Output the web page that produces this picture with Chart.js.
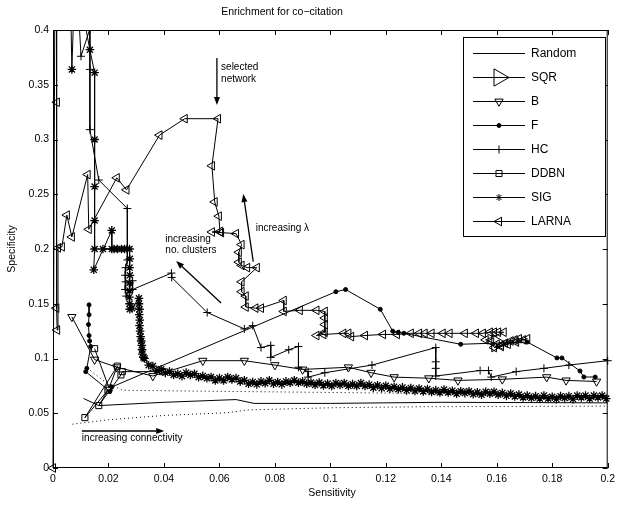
<!DOCTYPE html>
<html><head><meta charset="utf-8">
<script src="https://cdn.jsdelivr.net/npm/chart.js@4/dist/chart.umd.min.js"></script>
<style>html,body{margin:0;padding:0;background:#fff}canvas{display:block}</style>
</head><body>
<canvas id="c" width="620" height="506"></canvas>
<script>
// ---------------- DATA ----------------
const titleText = 'Enrichment for co\u2212citation';
const xAxisTitle = 'Sensitivity';
const yAxisTitle = 'Specificity';
const categories = ['Random','SQR','B','F','HC','DDBN','SIG','LARNA'];
const xTickValues = [0,0.02,0.04,0.06,0.08,0.1,0.12,0.14,0.16,0.18,0.2];
const xTickLabels = ['0','0.02','0.04','0.06','0.08','0.1','0.12','0.14','0.16','0.18','0.2'];
const yTickValues = [0,0.05,0.1,0.15,0.2,0.25,0.3,0.35,0.4];
const yTickLabels = ['0','0.05','0.1','0.15','0.2','0.25','0.3','0.35','0.4'];

const randomMean  = [[0.011,0.0635],[0.0165,0.057],[0.040,0.060],[0.066,0.0625],[0.0725,0.059],[0.100,0.059],[0.140,0.060],[0.200,0.0595]];
const randomUpper = [[0.0135,0.089],[0.018,0.080],[0.025,0.071],[0.060,0.070],[0.100,0.069],[0.135,0.068],[0.170,0.066],[0.200,0.065]];
const randomLower = [[0.007,0.040],[0.020,0.044],[0.040,0.048],[0.063,0.0505],[0.070,0.053],[0.100,0.055],[0.135,0.056],[0.200,0.0565]];

const sqrSeries = [[0.160,0.114]];

const bSeries = [[0.0068,0.138],[0.015,0.099],[0.023,0.092],[0.036,0.084],[0.054,0.098],[0.069,0.098],[0.080,0.094],[0.090,0.090],[0.1065,0.092],[0.1147,0.087],[0.123,0.083],[0.1355,0.082],[0.146,0.080],[0.162,0.081],[0.178,0.083],[0.185,0.080],[0.196,0.079]];

const fSeries = [[0.0130,0.149],[0.0130,0.140],[0.0128,0.131],[0.0130,0.121],[0.0132,0.116],[0.0136,0.111],[0.0122,0.091],[0.0118,0.088],[0.0205,0.070],[0.0212,0.074],[0.102,0.161],[0.1055,0.163],[0.118,0.145],[0.1225,0.125],[0.1245,0.124],[0.1265,0.123],[0.147,0.113],[0.171,0.115],[0.1817,0.1005],[0.1835,0.1005],[0.190,0.0886],[0.1914,0.0831],[0.1955,0.0831]];

const hcSeries = [[0.0085,0.45],[0.0101,0.376],[0.0133,0.401],[0.0133,0.364],[0.0133,0.309],[0.0165,0.263],[0.0268,0.237],[0.0268,0.190],[0.0262,0.183],[0.0260,0.176],[0.0262,0.170],[0.0260,0.163],[0.0264,0.157],[0.0287,0.171],[0.0287,0.163],[0.0427,0.178],[0.0428,0.174],[0.0556,0.142],[0.069,0.127],[0.072,0.130],[0.075,0.110],[0.0785,0.112],[0.0785,0.101],[0.085,0.108],[0.0885,0.111],[0.0885,0.092],[0.092,0.088],[0.092,0.083],[0.098,0.087],[0.115,0.094],[0.138,0.110],[0.138,0.097],[0.138,0.091],[0.138,0.084],[0.154,0.089],[0.157,0.089],[0.158,0.083],[0.167,0.088],[0.177,0.091],[0.186,0.094],[0.200,0.098]];

const ddbnSeries = [[0.015,0.109],[0.0202,0.073],[0.0232,0.093],[0.0115,0.046],[0.0198,0.071],[0.0165,0.057],[0.0245,0.085],[0.0250,0.088],[0.0395,0.088]];

const sigSeries = [[0.0062,0.45],[0.0068,0.364],[0.0079,0.45],[0.0082,0.45],[0.0133,0.382],[0.0150,0.361],[0.0150,0.300],[0.0150,0.257],[0.0150,0.226],[0.0150,0.200],[0.0147,0.181],[0.0212,0.217],[0.0212,0.200],[0.0180,0.200],[0.0220,0.200],[0.0232,0.200],[0.0247,0.200],[0.0258,0.200],[0.0267,0.200],[0.0276,0.200],[0.0277,0.191],[0.0276,0.183],[0.0277,0.176],[0.0275,0.169],[0.0276,0.162],[0.0275,0.156],[0.0276,0.150],[0.0277,0.145],[0.0285,0.146],[0.0310,0.155],[0.0310,0.150],[0.0312,0.145],[0.0311,0.140],[0.0313,0.135],[0.0312,0.130],[0.0314,0.125],[0.0316,0.120],[0.0318,0.116],[0.0320,0.112],[0.0321,0.108],[0.0322,0.104],[0.0326,0.101],
[0.0330,0.1001],[0.0345,0.0939],[0.0360,0.0931],[0.0375,0.0889],[0.0390,0.0901],[0.0405,0.0869],[0.0420,0.0881],[0.0435,0.0849],[0.0450,0.0861],[0.0465,0.0839],[0.0480,0.0871],[0.0495,0.0849],[0.0510,0.0861],[0.0525,0.0829],[0.0540,0.0841],[0.0555,0.0819],[0.0570,0.0831],[0.0585,0.0799],[0.0600,0.0821],[0.0615,0.0799],[0.0630,0.0831],[0.0645,0.0809],[0.0660,0.0821],[0.0675,0.0789],[0.0690,0.0801],[0.0705,0.0769],[0.0720,0.0786],[0.0735,0.0764],[0.0750,0.0791],[0.0765,0.0774],[0.0780,0.0801],[0.0795,0.0769],[0.0810,0.0786],[0.0825,0.0764],[0.0840,0.0791],[0.0855,0.0779],[0.0870,0.0801],[0.0885,0.0779],[0.0900,0.0791],[0.0915,0.0769],[0.0930,0.0781],[0.0945,0.0759],[0.0960,0.0781],[0.0975,0.0754],[0.0990,0.0771],[0.1005,0.0749],[0.1020,0.0776],[0.1035,0.0759],[0.1050,0.0776],[0.1065,0.0749],[0.1080,0.0766],[0.1095,0.0749],[0.1110,0.0776],[0.1125,0.0749],[0.1140,0.0761],[0.1155,0.0734],[0.1170,0.0756],[0.1185,0.0729],[0.1200,0.0751],[0.1215,0.0724],[0.1230,0.0741],[0.1245,0.0719],[0.1260,0.0736],[0.1275,0.0709],[0.1290,0.0731],[0.1305,0.0704],[0.1320,0.0726],[0.1335,0.0699],[0.1350,0.0721],[0.1365,0.0694],[0.1380,0.0711],[0.1395,0.0689],[0.1410,0.0716],[0.1425,0.0689],[0.1440,0.0706],[0.1455,0.0679],[0.1470,0.0701],[0.1485,0.0684],[0.1500,0.0701],[0.1515,0.0674],[0.1530,0.0691],[0.1545,0.0669],[0.1560,0.0696],[0.1575,0.0679],[0.1590,0.0696],[0.1605,0.0669],[0.1620,0.0686],[0.1635,0.0659],[0.1650,0.0681],[0.1665,0.0654],[0.1680,0.0671],[0.1695,0.0644],[0.1710,0.0661],[0.1725,0.0639],[0.1740,0.0656],[0.1755,0.0634],[0.1770,0.0661],[0.1785,0.0634],[0.1800,0.0651],[0.1815,0.0629],[0.1830,0.0656],[0.1845,0.0639],[0.1860,0.0656],[0.1875,0.0629],[0.1890,0.0661],[0.1905,0.0644],[0.1920,0.0661],[0.1935,0.0634],[0.1950,0.0661],[0.1965,0.0644],[0.1980,0.0661],[0.1995,0.0634]];

const larnaSeries = [[0,0],[0.0007,0.45],[0.0013,0.45],[0.0014,0.334],[0.0012,0.146],[0.0015,0.126],[0.0018,0.201],[0.0032,0.202],[0.0050,0.231],[0.0068,0.211],[0.0125,0.268],[0.0129,0.218],[0.0230,0.265],[0.0265,0.254],[0.0384,0.304],[0.0475,0.319],[0.0595,0.319],[0.0573,0.276],[0.0583,0.243],[0.0598,0.230],[0.0602,0.216],[0.0573,0.2155],[0.0606,0.215],[0.0660,0.214],[0.0680,0.204],[0.0670,0.197],[0.0670,0.188],[0.0680,0.185],[0.0700,0.183],[0.0735,0.183],[0.0680,0.170],[0.0680,0.161],[0.0695,0.157],[0.0695,0.147],[0.0730,0.146],[0.0750,0.146],[0.0832,0.153],[0.0832,0.143],[0.0890,0.144],[0.0950,0.144],[0.0980,0.143],[0.0980,0.137],[0.0980,0.131],[0.0980,0.124],[0.0950,0.121],[0.0975,0.122],[0.1047,0.123],[0.1065,0.123],[0.1075,0.120],[0.1125,0.121],[0.1190,0.122],[0.1240,0.122],[0.1290,0.123],[0.1320,0.123],[0.1340,0.123],[0.1365,0.123],[0.1405,0.123],[0.1430,0.123],[0.1485,0.123],[0.1525,0.123],[0.1550,0.123],[0.1575,0.124],[0.1590,0.124],[0.1605,0.124],[0.1625,0.124],[0.1560,0.117],[0.1580,0.115],[0.1600,0.113],[0.1615,0.112],[0.1630,0.114],[0.1650,0.116],[0.1665,0.117],[0.1680,0.118],[0.1695,0.117],[0.1710,0.118],[0.1590,0.110],[0.1615,0.111],[0.1640,0.113],[0.1670,0.115]];

// annotations (data coordinates)
const arrowList = [[0.0591,0.3744,0.0591,0.3315],[0.0722,0.1884,0.0686,0.2502],[0.0606,0.1507,0.0444,0.1890],[0.0104,0.0338,0.0401,0.0338]];
const noteList = [
  {x:0.0606, y:0.3662, t:'selected'}, {x:0.0606, y:0.3553, t:'network'},
  {x:0.0731, y:0.2192, t:'increasing \u03bb'},
  {x:0.0405, y:0.2091, t:'increasing'}, {x:0.0405, y:0.1991, t:'no. clusters'},
  {x:0.0104, y:0.0274, t:'increasing connectivity'}
];

// ---------------- STYLE ----------------
const FONT = '"Liberation Sans", Arial, Helvetica, sans-serif';
const markerStyles = {
  Random: {pointStyle:'line', radius:0},
  SQR:    {pointStyle:'triangle', rotation:90, radius:10, fill:false},
  B:      {pointStyle:'triangle', rotation:180, radius:4.8, fill:false},
  F:      {pointStyle:'circle', rotation:0, radius:2, fill:true},
  HC:     {pointStyle:'cross', rotation:0, radius:4, fill:false},
  DDBN:   {pointStyle:'rect', rotation:0, radius:4.3, fill:false},
  SIG:    {pointStyle:'star', rotation:0, radius:4.3, fill:false, bw:1.3},
  LARNA:  {pointStyle:'triangle', rotation:270, radius:5, fill:false}
};
const toPts = arr => arr.map(([x,y]) => ({x:x, y:y}));
function ds(name, arr, extra) {
  const m = markerStyles[name];
  return Object.assign({
    label:name, data:toPts(arr), showLine:true, borderColor:'#000', borderWidth:1, tension:0,
    pointStyle:m.pointStyle, pointRotation:m.rotation||0, pointRadius:m.radius, pointHoverRadius:m.radius,
    pointBorderColor:'#000', pointBackgroundColor:m.fill ? '#000' : 'rgba(0,0,0,0)', pointBorderWidth:m.bw||1,
    clip:{left:8, top:0, right:8, bottom:8}
  }, extra||{});
}

const datasets = [
  ds('Random', randomMean),
  Object.assign(ds('Random', randomUpper), {borderDash:[1,3], label:'RandomUpper'}),
  Object.assign(ds('Random', randomLower), {borderDash:[1,3], label:'RandomLower'}),
  ds('SQR', sqrSeries, {showLine:false}),
  ds('B', bSeries),
  ds('F', fSeries),
  ds('HC', hcSeries),
  ds('DDBN', ddbnSeries),
  ds('SIG', sigSeries),
  ds('LARNA', larnaSeries)
];

function drawMarker(ctx, name, x, y) {
  const m = markerStyles[name];
  if (!m.radius) return;
  ctx.save();
  ctx.strokeStyle = '#000'; ctx.fillStyle = m.fill ? '#000' : 'rgba(0,0,0,0)'; ctx.lineWidth = 1;
  const r = name === 'SIG' ? 3.5 : m.radius;
  Chart.helpers.drawPoint(ctx, {pointStyle:m.pointStyle, rotation:m.rotation||0, radius:r, borderWidth:1}, x, y);
  ctx.restore();
}

function arrow(ctx, x1, y1, x2, y2) {
  const ang = Math.atan2(y2 - y1, x2 - x1), L = 8, W = 3;
  const bx = x2 - L * Math.cos(ang), by = y2 - L * Math.sin(ang);
  ctx.beginPath(); ctx.moveTo(x1, y1); ctx.lineTo(bx, by); ctx.lineWidth = 1.3; ctx.stroke();
  ctx.beginPath(); ctx.moveTo(x2, y2);
  ctx.lineTo(bx + W * Math.sin(ang), by - W * Math.cos(ang));
  ctx.lineTo(bx - W * Math.sin(ang), by + W * Math.cos(ang));
  ctx.closePath(); ctx.fill();
}

const decor = {
  id:'decor',
  afterDatasetsDraw(chart) {
    const {ctx, chartArea:a, scales:{x, y}} = chart;
    ctx.save();
    ctx.strokeStyle = '#000'; ctx.fillStyle = '#000'; ctx.lineWidth = 1;
    ctx.strokeRect(a.left + 0.5, a.top + 0.5, a.right - a.left - 1, a.bottom - a.top - 1);
    ctx.beginPath();
    xTickValues.forEach(v => { const p = Math.round(x.getPixelForValue(v)) + 0.5;
      ctx.moveTo(p, a.bottom); ctx.lineTo(p, a.bottom - 5); ctx.moveTo(p, a.top); ctx.lineTo(p, a.top + 5); });
    yTickValues.forEach(v => { const p = Math.round(y.getPixelForValue(v)) + 0.5;
      ctx.moveTo(a.left, p); ctx.lineTo(a.left + 5, p); ctx.moveTo(a.right, p); ctx.lineTo(a.right - 5, p); });
    ctx.stroke();
    ctx.textBaseline = 'middle'; ctx.textAlign = 'center';
    ctx.font = '10.5px ' + FONT;
    ctx.fillText(titleText, 282, 12);
    ctx.fillText(xAxisTitle, 332, 493);
    ctx.save(); ctx.translate(12, 249); ctx.rotate(-Math.PI / 2); ctx.fillText(yAxisTitle, 0, 0); ctx.restore();
    arrowList.forEach(([x1, y1, x2, y2]) => arrow(ctx, x.getPixelForValue(x1), y.getPixelForValue(y1), x.getPixelForValue(x2), y.getPixelForValue(y2)));
    ctx.font = '10px ' + FONT; ctx.textAlign = 'left';
    noteList.forEach(n => ctx.fillText(n.t, x.getPixelForValue(n.x), y.getPixelForValue(n.y)));
    const L = 463.5, T = 37.5, R = 605.5, B = 236.5;
    ctx.fillStyle = '#fff'; ctx.fillRect(L, T, R - L, B - T);
    ctx.strokeStyle = '#000'; ctx.lineWidth = 1; ctx.strokeRect(L, T, R - L, B - T);
    ctx.fillStyle = '#000'; ctx.font = '12px ' + FONT; ctx.textAlign = 'left'; ctx.textBaseline = 'middle';
    categories.forEach((name, i) => {
      const cy = Math.round(53 + i * 24.0) + 0.5;
      ctx.beginPath(); ctx.moveTo(473, cy); ctx.lineTo(525, cy); ctx.lineWidth = 1; ctx.stroke();
      drawMarker(ctx, name, 499, cy);
      ctx.fillStyle = '#000';
      ctx.fillText(name, 531, cy + 0.5);
    });
    ctx.restore();
  }
};

new Chart(document.getElementById('c'), {
  type:'scatter',
  data:{datasets:datasets},
  options:{
    responsive:false, animation:false, devicePixelRatio:1,
    layout:{padding:{top:30, right:9, left:0, bottom:0}},
    plugins:{legend:{display:false}, tooltip:{enabled:false}, title:{display:false}},
    events:[],
    scales:{
      x:{type:'linear', min:0, max:0.2,
        afterBuildTicks:s => { s.ticks = xTickValues.map(v => ({value:v})); },
        afterFit:s => { s.height = 38; },
        ticks:{callback:(v, i) => xTickLabels[i], color:'#000', font:{family:FONT, size:10.5}, padding:5, maxRotation:0, autoSkip:false},
        grid:{display:false, drawTicks:false}, border:{display:false}},
      y:{type:'linear', min:0, max:0.4,
        afterBuildTicks:s => { s.ticks = yTickValues.map(v => ({value:v})); },
        afterFit:s => { s.width = 53; },
        ticks:{callback:(v, i) => yTickLabels[i], color:'#000', font:{family:FONT, size:10.5}, padding:4, autoSkip:false},
        grid:{display:false, drawTicks:false}, border:{display:false}}
    }
  },
  plugins:[decor]
});
</script>
</body></html>
